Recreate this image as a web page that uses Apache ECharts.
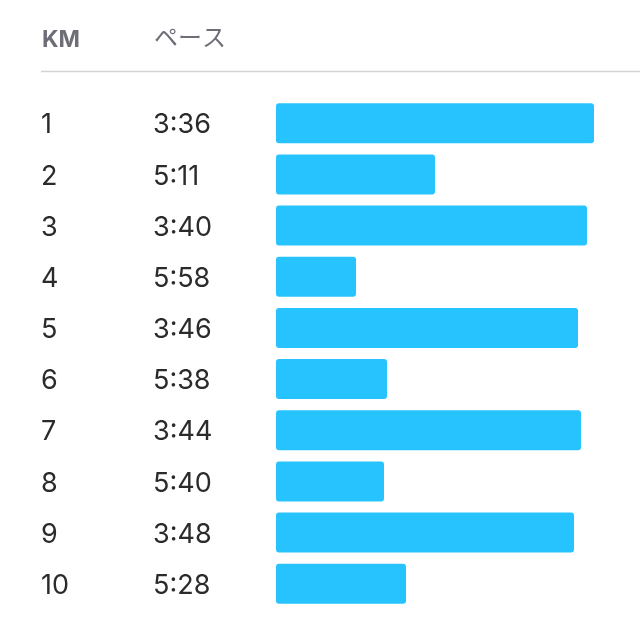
<!DOCTYPE html>
<html><head><meta charset="utf-8">
<script src="https://cdn.jsdelivr.net/npm/echarts@6/dist/echarts.min.js"></script>
<style>html,body{margin:0;padding:0;background:#fff}#c{width:640px;height:635px}</style>
</head><body><div id="c"></div>
<script>
const kmLabels = ['1','2','3','4','5','6','7','8','9','10'];
const paceLabels = ['3:36','5:11','3:40','5:58','3:46','5:38','3:44','5:40','3:48','5:28'];
const barValues = [318,159,311,80,302,111,305,108,298,130];
const headers = ['KM','ペース'];

const chart = echarts.init(document.getElementById('c'));
chart.setOption({
  animation:false,
  backgroundColor:'#fff',
  grid:{left:276,right:24,top:97.7,bottom:25.7},
  xAxis:{type:'value',min:0,max:340,show:false},
  yAxis:{type:'category',inverse:true,data:kmLabels,
    axisLine:{show:false},axisTick:{show:false},splitLine:{show:false},
    axisLabel:{align:'left',margin:235,
      formatter:function(v,i){return '{km|'+v+'}{pace|'+paceLabels[i]+'}';},
      rich:{
        km:{width:112,fontFamily:'Inter',fontSize:27,color:'#2b2b2e',padding:[4,0,0,0]},
        pace:{fontFamily:'Inter',fontSize:27,color:'#2b2b2e',padding:[4,0,0,0]}
      }}},
  series:[{type:'bar',data:barValues,barWidth:40,
    itemStyle:{color:'#27c3ff',borderRadius:3}}],
  graphic:[
    {type:'text',left:42,top:29,style:{text:headers[0],font:'bold 23px Inter',fill:'#6e6e78'}},
    {type:'text',left:154,top:25,style:{text:headers[1],font:'24px "Noto Sans CJK JP"',fill:'#6e6e78'}},
    {type:'line',shape:{x1:41,y1:71.5,x2:640,y2:71.5},style:{stroke:'#d4d4d8',lineWidth:1.5}}
  ]
});
</script></body></html>
